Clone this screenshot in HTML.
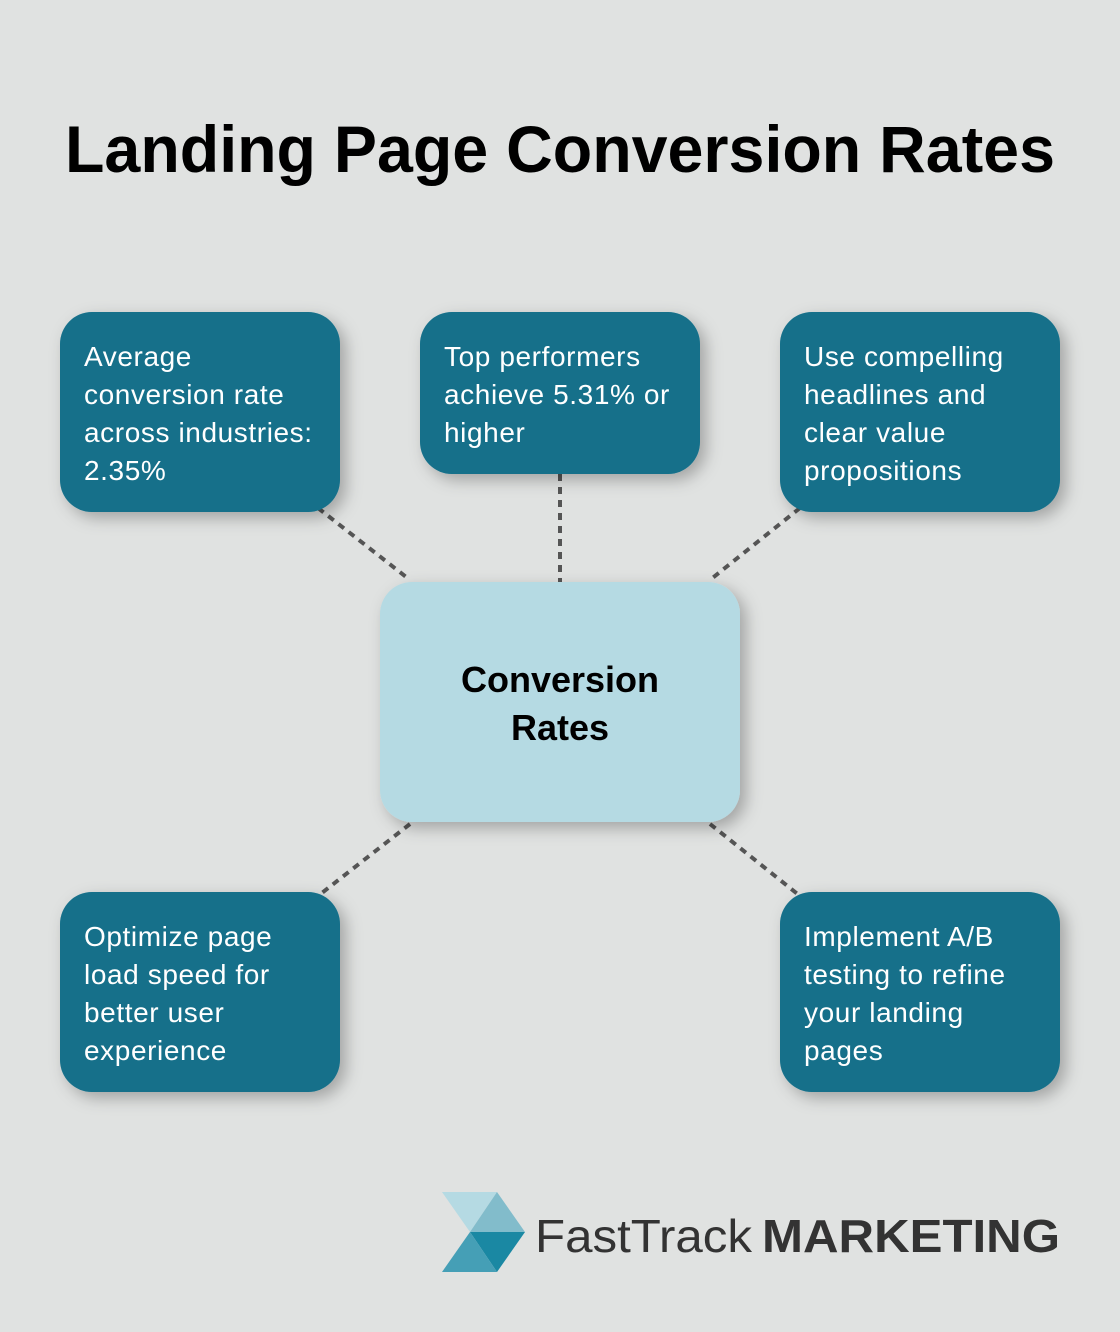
<!DOCTYPE html>
<html><head><meta charset="utf-8"><style>html,body{margin:0;padding:0;background:#e0e2e1}svg{display:block}</style></head>
<body>
<svg width="1120" height="1332" viewBox="0 0 1120 1332" xmlns="http://www.w3.org/2000/svg">
<defs>
<filter id="sh" x="-20%" y="-20%" width="150%" height="150%">
<feDropShadow dx="6" dy="6" stdDeviation="8" flood-color="#000" flood-opacity="0.28"/>
</filter>
</defs>
<rect width="1120" height="1332" fill="#e0e2e1"/>
<text x="560" y="172" text-anchor="middle" font-family="Liberation Sans, sans-serif" font-weight="bold" font-size="66" textLength="990" lengthAdjust="spacingAndGlyphs" fill="#000">Landing Page Conversion Rates</text>
<g stroke="#555" stroke-width="4" stroke-dasharray="7 6" fill="none">
<line x1="318" y1="508" x2="410" y2="580"/>
<line x1="560" y1="474" x2="560" y2="582"/>
<line x1="800" y1="508" x2="710" y2="580"/>
<line x1="410" y1="824" x2="318" y2="896"/>
<line x1="710" y1="824" x2="800" y2="896"/>
</g>
<g fill="#136f8a" filter="url(#sh)">
<rect x="60" y="312" width="280" height="200" rx="32"/>
<rect x="420" y="312" width="280" height="162" rx="32"/>
<rect x="780" y="312" width="280" height="200" rx="32"/>
<rect x="60" y="892" width="280" height="200" rx="32"/>
<rect x="780" y="892" width="280" height="200" rx="32"/>
</g>
<rect x="380" y="582" width="360" height="240" rx="32" fill="#b5dae3" filter="url(#sh)"/>
<g font-family="Liberation Sans, sans-serif" font-size="28" letter-spacing="0.6" fill="#fff">
<text x="84" y="366">Average</text>
<text x="84" y="404">conversion rate</text>
<text x="84" y="442">across industries:</text>
<text x="84" y="480">2.35%</text>
<text x="444" y="366">Top performers</text>
<text x="444" y="404">achieve 5.31% or</text>
<text x="444" y="442">higher</text>
<text x="804" y="366">Use compelling</text>
<text x="804" y="404">headlines and</text>
<text x="804" y="442">clear value</text>
<text x="804" y="480">propositions</text>
<text x="84" y="946">Optimize page</text>
<text x="84" y="984">load speed for</text>
<text x="84" y="1022">better user</text>
<text x="84" y="1060">experience</text>
<text x="804" y="946">Implement A/B</text>
<text x="804" y="984">testing to refine</text>
<text x="804" y="1022">your landing</text>
<text x="804" y="1060">pages</text>
</g>
<g font-family="Liberation Sans, sans-serif" font-weight="bold" font-size="36" fill="#000" text-anchor="middle">
<text x="560" y="692">Conversion</text>
<text x="560" y="740">Rates</text>
</g>
<polygon points="442,1192 497,1192 470,1232" fill="#b5dae3"/>
<polygon points="497,1192 525,1232 470,1232" fill="#82bccb"/>
<polygon points="470,1232 525,1232 497,1272" fill="#1a88a3"/>
<polygon points="470,1232 497,1272 442,1272" fill="#459fb6"/>
<text x="535" y="1252" font-family="Liberation Sans, sans-serif" font-size="46" fill="#333" textLength="217" lengthAdjust="spacingAndGlyphs">FastTrack</text>
<text x="762" y="1252" font-family="Liberation Sans, sans-serif" font-weight="bold" font-size="46" fill="#333" textLength="298" lengthAdjust="spacingAndGlyphs">MARKETING</text>
</svg>
</body></html>
